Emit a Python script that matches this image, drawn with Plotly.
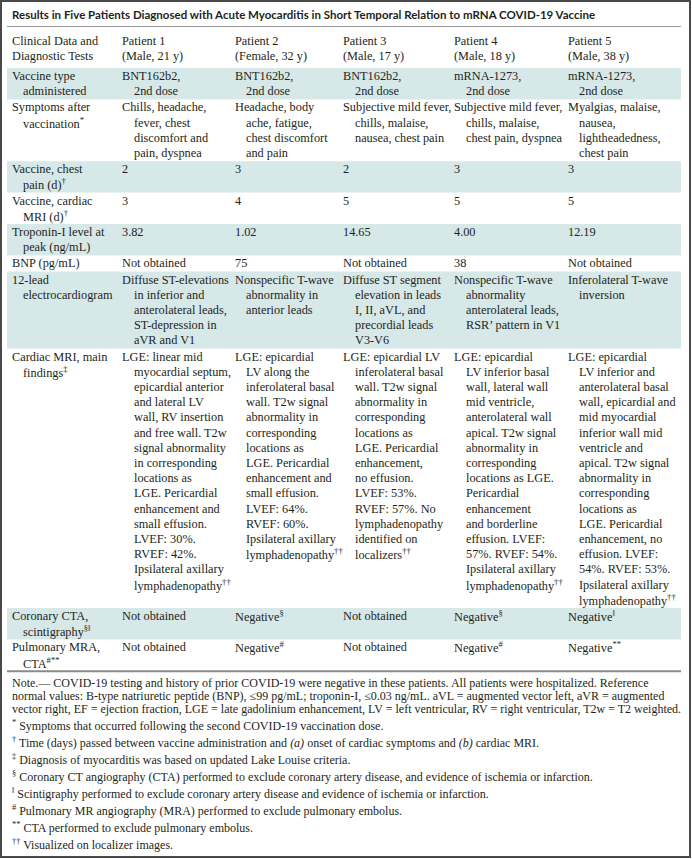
import plotly.graph_objects as go

# table content
title = "Results in Five Patients Diagnosed with Acute Myocarditis in Short Temporal Relation to mRNA COVID-19 Vaccine"

header = [
    "Clinical Data and<br>Diagnostic Tests",
    "Patient 1<br>(Male, 21 y)",
    "Patient 2<br>(Female, 32 y)",
    "Patient 3<br>(Male, 17 y)",
    "Patient 4<br>(Male, 18 y)",
    "Patient 5<br>(Male, 38 y)",
]

row_labels = [
    "Vaccine type<br>administered",
    "Symptoms after<br>vaccination<sup>*</sup>",
    "Vaccine, chest<br>pain (d)<sup>†</sup>",
    "Vaccine, cardiac<br>MRI (d)<sup>†</sup>",
    "Troponin-I level at<br>peak (ng/mL)",
    "BNP (pg/mL)",
    "12-lead<br>electrocardiogram",
    "Cardiac MRI, main<br>findings<sup>‡</sup>",
    "Coronary CTA,<br>scintigraphy<sup>§‖</sup>",
    "Pulmonary MRA,<br>CTA<sup>#**</sup>",
]

patient1 = [
    "BNT162b2,<br>2nd dose",
    "Chills, headache,<br>fever, chest<br>discomfort and<br>pain, dyspnea",
    "2",
    "3",
    "3.82",
    "Not obtained",
    "Diffuse ST-elevations<br>in inferior and<br>anterolateral leads,<br>ST-depression in<br>aVR and V1",
    "LGE: linear mid<br>myocardial septum,<br>epicardial anterior<br>and lateral LV<br>wall, RV insertion<br>and free wall. T2w<br>signal abnormality<br>in corresponding<br>locations as<br>LGE. Pericardial<br>enhancement and<br>small effusion.<br>LVEF: 30%.<br>RVEF: 42%.<br>Ipsilateral axillary<br>lymphadenopathy<sup>††</sup>",
    "Not obtained",
    "Not obtained",
]

patient2 = [
    "BNT162b2,<br>2nd dose",
    "Headache, body<br>ache, fatigue,<br>chest discomfort<br>and pain",
    "3",
    "4",
    "1.02",
    "75",
    "Nonspecific T-wave<br>abnormality in<br>anterior leads",
    "LGE: epicardial<br>LV along the<br>inferolateral basal<br>wall. T2w signal<br>abnormality in<br>corresponding<br>locations as<br>LGE. Pericardial<br>enhancement and<br>small effusion.<br>LVEF: 64%.<br>RVEF: 60%.<br>Ipsilateral axillary<br>lymphadenopathy<sup>††</sup>",
    "Negative<sup>§</sup>",
    "Negative<sup>#</sup>",
]

patient3 = [
    "BNT162b2,<br>2nd dose",
    "Subjective mild fever,<br>chills, malaise,<br>nausea, chest pain",
    "2",
    "5",
    "14.65",
    "Not obtained",
    "Diffuse ST segment<br>elevation in leads<br>I, II, aVL, and<br>precordial leads<br>V3-V6",
    "LGE: epicardial LV<br>inferolateral basal<br>wall. T2w signal<br>abnormality in<br>corresponding<br>locations as<br>LGE. Pericardial<br>enhancement,<br>no effusion.<br>LVEF: 53%.<br>RVEF: 57%. No<br>lymphadenopathy<br>identified on<br>localizers<sup>††</sup>",
    "Not obtained",
    "Not obtained",
]

patient4 = [
    "mRNA-1273,<br>2nd dose",
    "Subjective mild fever,<br>chills, malaise,<br>chest pain, dyspnea",
    "3",
    "5",
    "4.00",
    "38",
    "Nonspecific T-wave<br>abnormality<br>anterolateral leads,<br>RSR’ pattern in V1",
    "LGE: epicardial<br>LV inferior basal<br>wall, lateral wall<br>mid ventricle,<br>anterolateral wall<br>apical. T2w signal<br>abnormality in<br>corresponding<br>locations as LGE.<br>Pericardial<br>enhancement<br>and borderline<br>effusion. LVEF:<br>57%. RVEF: 54%.<br>Ipsilateral axillary<br>lymphadenopathy<sup>††</sup>",
    "Negative<sup>§</sup>",
    "Negative<sup>#</sup>",
]

patient5 = [
    "mRNA-1273,<br>2nd dose",
    "Myalgias, malaise,<br>nausea,<br>lightheadedness,<br>chest pain",
    "3",
    "5",
    "12.19",
    "Not obtained",
    "Inferolateral T-wave<br>inversion",
    "LGE: epicardial<br>LV inferior and<br>anterolateral basal<br>wall, epicardial and<br>mid myocardial<br>inferior wall mid<br>ventricle and<br>apical. T2w signal<br>abnormality in<br>corresponding<br>locations as<br>LGE. Pericardial<br>enhancement, no<br>effusion. LVEF:<br>54%. RVEF: 53%.<br>Ipsilateral axillary<br>lymphadenopathy<sup>††</sup>",
    "Negative<sup>‖</sup>",
    "Negative<sup>**</sup>",
]

note_lines = [
    "Note.— COVID-19 testing and history of prior COVID-19 were negative in these patients. All patients were hospitalized. Reference",
    "normal values: B-type natriuretic peptide (BNP), ≤99 pg/mL; troponin-I, ≤0.03 ng/mL. aVL = augmented vector left, aVR = augmented",
    "vector right, EF = ejection fraction, LGE = late gadolinium enhancement, LV = left ventricular, RV = right ventricular, T2w = T2 weighted.",
]

footnotes = [
    "<sup>*</sup> Symptoms that occurred following the second COVID-19 vaccination dose.",
    "<sup>†</sup> Time (days) passed between vaccine administration and <i>(a)</i> onset of cardiac symptoms and <i>(b)</i> cardiac MRI.",
    "<sup>‡</sup> Diagnosis of myocarditis was based on updated Lake Louise criteria.",
    "<sup>§</sup> Coronary CT angiography (CTA) performed to exclude coronary artery disease, and evidence of ischemia or infarction.",
    "<sup>‖</sup> Scintigraphy performed to exclude coronary artery disease and evidence of ischemia or infarction.",
    "<sup>#</sup> Pulmonary MR angiography (MRA) performed to exclude pulmonary embolus.",
    "<sup>**</sup> CTA performed to exclude pulmonary embolus.",
    "<sup>††</sup> Visualized on localizer images.",
]

# layout constants (pixels)
W, H = 692, 859
col_x = [9.5, 120, 232.5, 341, 452, 565.5]
indent = 11.5
line_h = 15.2
shade = "#d7e8e9"
ink = "#231f20"
serif = "Liberation Serif, Times New Roman, serif"
fsize = 12.3
note_size = 12.0

annotations = []
shapes = []


def add_line(x, y, text, size=fsize, family=serif):
    annotations.append(dict(
        x=x, y=y, xref="x", yref="y", text=text, showarrow=False,
        xanchor="left", yanchor="middle",
        font=dict(family=family, size=size, color=ink),
    ))


def add_cell(x, y0, text, hang=True):
    for i, part in enumerate(text.split("<br>")):
        add_line(x + (indent if (hang and i > 0) else 0), y0 + i * line_h, part)


# title and rule
add_line(9.5, 14.5, "<b>" + title + "</b>", size=11.5, family="Lato, Open Sans, sans-serif")
shapes.append(dict(type="line", xref="x", yref="y", x0=7, x1=681, y0=26.5, y1=26.5,
                   line=dict(color="#9a9a9a", width=1)))

# header row
for cx, txt in zip(col_x, header):
    add_cell(cx, 41, txt, hang=False)

# body rows
columns = [row_labels, patient1, patient2, patient3, patient4, patient5]
top = 68
for r in range(len(row_labels)):
    cells = [col[r] for col in columns]
    n = max(c.count("<br>") + 1 for c in cells)
    h = n * line_h + 1
    if r % 2 == 0:
        shapes.append(dict(type="rect", xref="x", yref="y", x0=7, x1=681, y0=top, y1=top + h,
                           fillcolor=shade, line=dict(width=0), layer="below"))
    for cx, txt in zip(col_x, cells):
        add_cell(cx, top + 8, txt)
    top += h

shapes.append(dict(type="line", xref="x", yref="y", x0=7, x1=681, y0=top + 0.5, y1=top + 0.5,
                   line=dict(color="#8a8a8a", width=2)))

# notes and footnotes
y = top + 12
for t in note_lines:
    add_line(9.5, y, t, size=note_size)
    y += 13
y += 4
for t in footnotes:
    add_line(9.5, y, t, size=note_size)
    y += 17

# outer frame
shapes.append(dict(type="rect", xref="x", yref="y", x0=1, x1=690, y0=1, y1=857,
                   line=dict(color="#4a4a4a", width=2)))

fig = go.Figure()
fig.update_layout(
    width=W, height=H,
    margin=dict(l=0, r=0, t=0, b=0),
    paper_bgcolor="white", plot_bgcolor="white",
    showlegend=False,
    annotations=annotations,
    shapes=shapes,
)
fig.update_xaxes(range=[0, W], visible=False, fixedrange=True)
fig.update_yaxes(range=[H, 0], visible=False, fixedrange=True)

fig.write_html(
    "out.html",
    config={"displayModeBar": False},
    post_script="document.body.style.margin='0';document.body.style.overflow='hidden';",
)
